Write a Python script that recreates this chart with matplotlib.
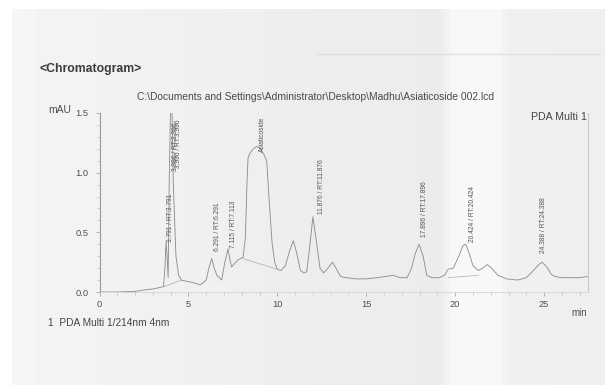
import numpy as np
import matplotlib
matplotlib.use("Agg")
import matplotlib.pyplot as plt

plt.rcParams['font.family'] = ['Liberation Sans', 'DejaVu Sans']

# ---- chromatogram trace (min, mAU) ----
time = [0.0, 1.0, 2.0, 2.65, 3.0, 3.3, 3.6, 3.68, 3.74, 3.8, 3.86, 3.92, 4.0, 4.07,
        4.15, 4.3, 4.45, 4.6, 4.9, 5.2, 5.45, 5.65, 5.85, 6.0, 6.15, 6.31, 6.45,
        6.6, 6.87, 7.05, 7.23, 7.35, 7.43, 7.6, 7.8, 8.07, 8.2, 8.29, 8.35, 8.45,
        8.65, 8.85, 9.05, 9.25, 9.4, 9.55, 9.7, 9.85, 10.0, 10.2, 10.45, 10.7,
        10.9, 11.1, 11.3, 11.5, 11.65, 11.8, 12.0, 12.2, 12.4, 12.6, 12.85, 13.1,
        13.3, 13.55, 13.9, 14.4, 15.0, 15.6, 16.1, 16.5, 16.9, 17.3, 17.55, 17.75,
        17.97, 18.2, 18.4, 18.7, 19.1, 19.4, 19.6, 19.9, 20.2, 20.45, 20.6, 20.8,
        21.0, 21.3, 21.55, 21.8, 22.05, 22.4, 22.9, 23.5, 24.0, 24.4, 24.7, 24.9,
        25.15, 25.4, 25.6, 26.0, 26.5, 27.0, 27.47]
signal = [0.0, 0.0, 0.005, 0.02, 0.025, 0.035, 0.045, 0.2, 0.42, 0.3, 0.12, 0.9, 1.6, 1.6,
          0.9, 0.3, 0.14, 0.10, 0.09, 0.08, 0.07, 0.06, 0.08, 0.10, 0.2, 0.28, 0.2,
          0.14, 0.10, 0.25, 0.36, 0.26, 0.21, 0.24, 0.27, 0.29, 0.45, 0.9, 1.12, 1.16,
          1.2, 1.22, 1.2, 1.15, 1.10, 0.75, 0.42, 0.25, 0.19, 0.18, 0.22, 0.35,
          0.43, 0.32, 0.18, 0.16, 0.17, 0.35, 0.63, 0.42, 0.2, 0.16, 0.2, 0.25,
          0.2, 0.13, 0.12, 0.11, 0.11, 0.12, 0.13, 0.14, 0.12, 0.12, 0.2, 0.32,
          0.40, 0.3, 0.14, 0.12, 0.12, 0.14, 0.19, 0.2, 0.3, 0.39, 0.40, 0.32,
          0.22, 0.18, 0.2, 0.23, 0.2, 0.14, 0.11, 0.10, 0.12, 0.18, 0.23, 0.25,
          0.21, 0.15, 0.13, 0.12, 0.12, 0.12, 0.13]

# integration baselines (start/end time, start/end level)
base_t0 = [3.62, 8.07, 19.6]
base_t1 = [4.6, 10.0, 21.3]
base_y0 = [0.045, 0.28, 0.12]
base_y1 = [0.10, 0.19, 0.14]

# peak labels
peak_labels = ["3.791 / RT:3.791", "3.996 / RT:3.996", "3.996 / RT:3.996",
               "6.291 / RT:6.291", "7.115 / RT:7.113", "Asiaticoside",
               "11.876 / RT:11.876", "17.896 / RT:17.896", "20.424 / RT:20.424",
               "24.388 / RT:24.388"]
label_x = [3.97, 4.27, 4.45, 6.66, 7.51, 9.14, 12.46, 18.3, 20.95, 24.94]
label_y = [0.42, 1.01, 1.04, 0.34, 0.37, 1.17, 0.65, 0.46, 0.42, 0.33]

x_ticks = [0, 5, 10, 15, 20, 25]
y_ticks = [0.0, 0.5, 1.0, 1.5]
y_tick_labels = ["0.0", "0.5", "1.0", "1.5"]

W, H = 605, 385
fig = plt.figure(figsize=(W / 100, H / 100), dpi=100)
fig.patch.set_facecolor("white")

def fx(px):
    return px / W

def fy(py):
    return 1 - py / H

# paper background: smooth horizontal shading (pixel columns -> grey level)
shade_px = [12, 40, 110, 200, 300, 440, 452, 498, 508, 605]
shade_val = [0.965, 0.955, 0.948, 0.94, 0.93, 0.925, 0.972, 0.972, 0.94, 0.935]
cols = np.interp(np.arange(W), shade_px, shade_val)
cols[:12] = 1.0
img = np.tile(cols, (H, 1))
img[:9, :] = 1.0
bg = fig.add_axes([0, 0, 1, 1], zorder=0)
bg.imshow(img, cmap="gray", vmin=0, vmax=1, aspect="auto", interpolation="bilinear")
bg.set_axis_off()
bg.plot([316, 598], [53, 53], color="#e0e0e0", lw=1.0)
bg.set_xlim(-0.5, W - 0.5)
bg.set_ylim(H - 0.5, -0.5)

ax = fig.add_axes([fx(99.5), fy(292), fx(588 - 99.5), fy(113) - fy(292)], zorder=2)
ax.set_facecolor("none")
ax.set_xlim(0, 27.47)
ax.set_ylim(0, 1.5)

ax.plot(time, signal, color="#909090", lw=0.65, clip_on=True)
for t0, t1, y0, y1 in zip(base_t0, base_t1, base_y0, base_y1):
    ax.plot([t0, t1], [y0, y1], color="#aaaaaa", lw=0.5)

for s, x, y in zip(peak_labels, label_x, label_y):
    ax.text(x, y, s, rotation=90, ha="center", va="bottom", fontsize=4.8,
            color="#555555")

ax.spines["top"].set_visible(False)
ax.spines["left"].set_color("#9a9a9a")
ax.spines["left"].set_linewidth(0.8)
ax.spines["right"].set_color("#c8c8c8")
ax.spines["right"].set_linewidth(0.7)
ax.spines["bottom"].set_color("#d6d6d6")
ax.spines["bottom"].set_linewidth(0.6)

ax.set_xticks(x_ticks)
ax.set_xticklabels([str(v) for v in x_ticks])
ax.set_xticks(np.arange(0, 28, 1), minor=True)
ax.set_yticks(y_ticks)
ax.set_yticklabels(y_tick_labels)
ax.set_yticks(np.arange(0, 1.51, 0.1), minor=True)
ax.tick_params(axis="both", which="major", labelsize=6.7, colors="#aaaaaa",
               labelcolor="#505050", length=3, width=0.6, pad=5)
ax.tick_params(axis="both", which="minor", colors="#bbbbbb", length=2, width=0.5)
ax.tick_params(axis="x", which="major", pad=3)

fig.text(fx(40), fy(69), "<Chromatogram>", fontsize=8.8, fontweight="bold",
         color="#3a3a3a", ha="left", va="center", zorder=3)
fig.text(fx(137), fy(97),
         "C:\\Documents and Settings\\Administrator\\Desktop\\Madhu\\Asiaticoside 002.lcd",
         fontsize=7.4, color="#4a4a4a", ha="left", va="center", zorder=3)
fig.text(fx(48), fy(110), "mAU", fontsize=7.5, color="#505050", ha="left", va="center",
         zorder=3)
fig.text(fx(587), fy(117), "PDA Multi 1", fontsize=7.7, color="#454545",
         ha="right", va="center", zorder=3)
fig.text(fx(587), fy(313), "min", fontsize=7.0, color="#505050", ha="right", va="center",
         zorder=3)
fig.text(fx(48), fy(323), "1  PDA Multi 1/214nm 4nm", fontsize=7.3, color="#454545",
         ha="left", va="center", zorder=3)

fig.savefig("out.png", dpi=100, facecolor=fig.get_facecolor())
